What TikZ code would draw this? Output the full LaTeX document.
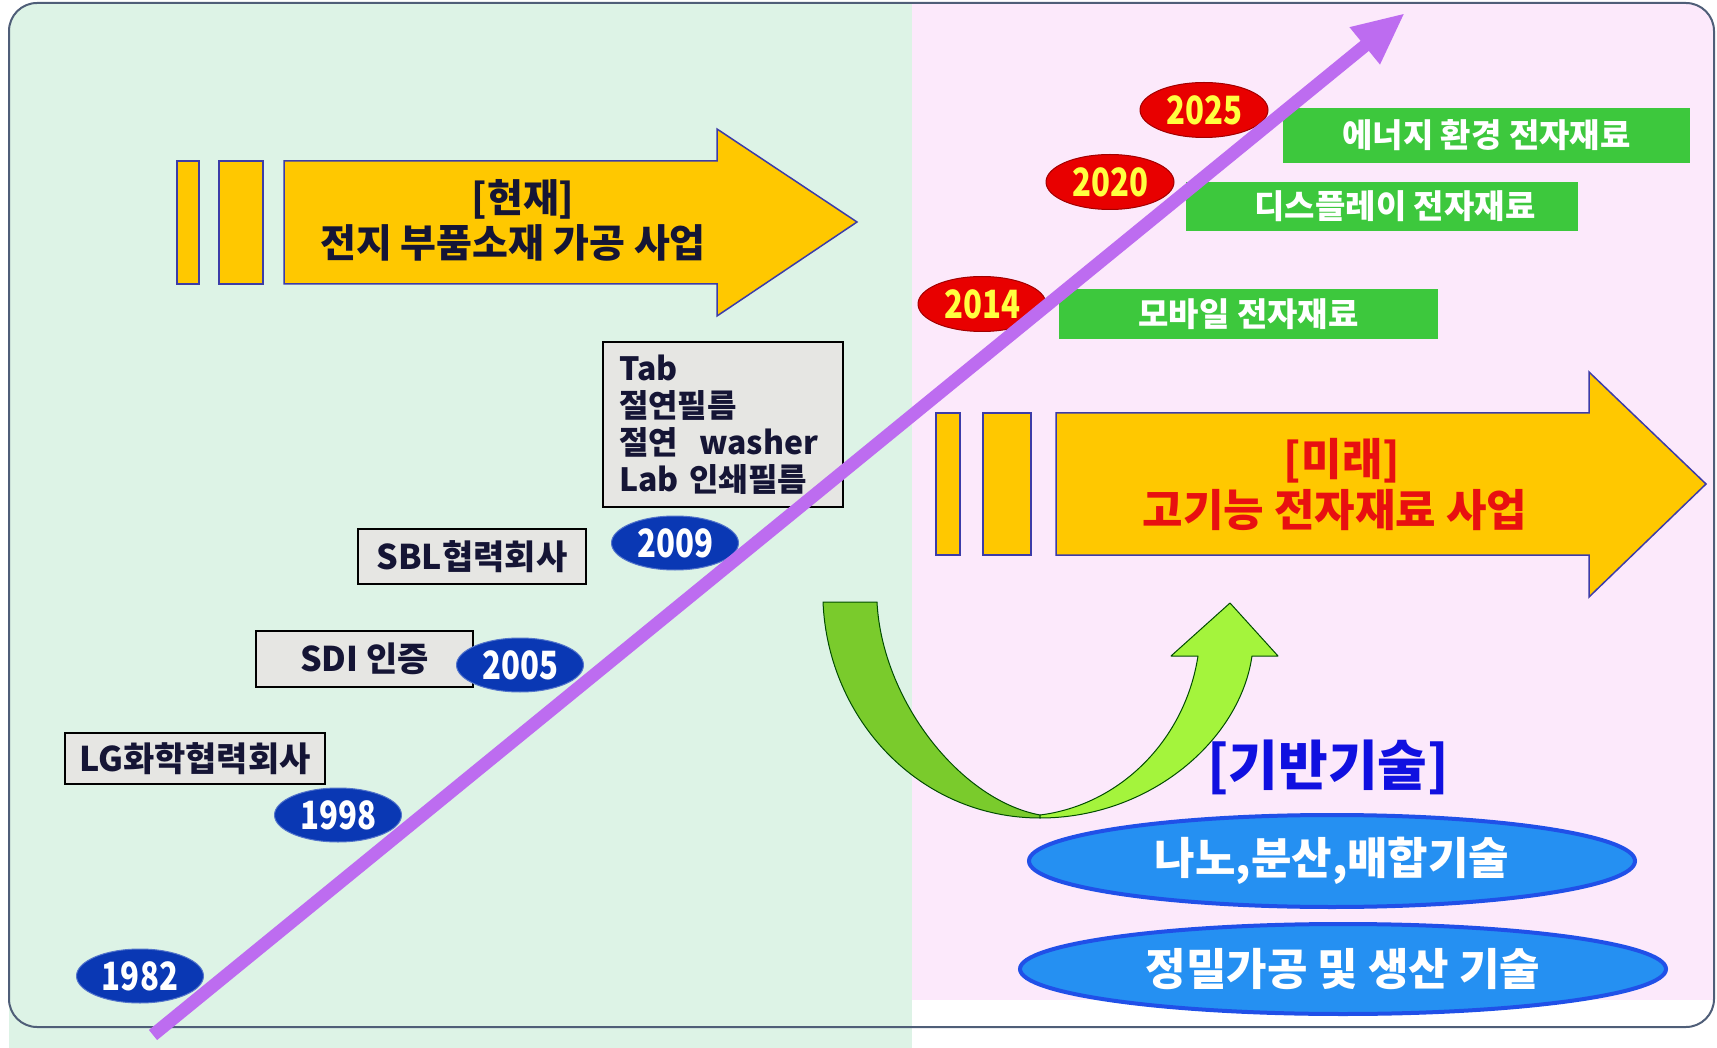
\documentclass[tikz,border=0pt]{standalone}
\usepackage{fontspec}
\usepackage{graphicx}
\newfontfamily\kr{Noto Sans CJK KR}
\usetikzlibrary{arrows.meta,shapes.geometric}
\definecolor{bgG}{HTML}{DDF3E6}
\definecolor{bgP}{HTML}{FCE9FB}
\definecolor{frameC}{HTML}{4F5E78}
\definecolor{gold}{HTML}{FFC800}
\definecolor{goldline}{HTML}{3C3CA8}
\definecolor{purp}{HTML}{BD6CF0}
\definecolor{navyE}{HTML}{0A38B4}
\definecolor{redE}{HTML}{E80000}
\definecolor{yel}{HTML}{FFFF40}
\definecolor{cGreen}{HTML}{3DC83D}
\definecolor{grayb}{HTML}{E6E6E3}
\definecolor{txtnavy}{HTML}{151535}
\definecolor{udark}{HTML}{7ACB2C}
\definecolor{ulight}{HTML}{A4F43C}
\definecolor{blueE}{HTML}{2590F2}
\definecolor{blueEb}{HTML}{2050E8}
\definecolor{redT}{HTML}{E81010}
\definecolor{blueT}{HTML}{1010E0}
\newcommand{\yrtxt}[1]{\scalebox{0.8}[1]{#1}}
\newcommand{\fsz}[1]{\fontsize{#1}{#1}\selectfont}
\begin{document}
\begin{tikzpicture}[x=1pt,y=-1pt,
  yearB/.style={ellipse, fill=navyE, draw=navyE!70!white, line width=1pt, minimum width=127pt, minimum height=54pt, inner sep=0pt, text=white, font=\kr\bfseries\fsz{39}},
  yearR/.style={ellipse, fill=redE, draw=redE!70!black, line width=1pt, minimum width=128pt, minimum height=55pt, inner sep=0pt, text=yel, font=\kr\bfseries\fsz{39}},
  graybox/.style={draw=black, line width=1.6pt, fill=grayb, text=txtnavy, font=\kr\bfseries\fsz{34}, inner sep=0pt},
  greenbox/.style={fill=cGreen, text=white, font=\kr\bfseries\fsz{33}, inner sep=0pt},
  techE/.style={ellipse, fill=blueE, draw=blueEb, line width=4pt, text=white, font=\kr\bfseries\fsz{44}, inner sep=0pt},
  goldshape/.style={fill=gold, draw=goldline, line width=1.5pt},
  utrn/.style={draw=black!70!green, line width=1pt, line join=round},
]
\useasboundingbox (0,0) rectangle (1717,1048);
% backgrounds
\fill[bgG, rounded corners=28pt] (9,3) rectangle (912,80);
\fill[bgG] (9,40) rectangle (912,1048);
\fill[bgG] (60,3) rectangle (912,60);
\fill[bgP, rounded corners=28pt] (912,3) rectangle (1714,80);
\fill[bgP] (912,40) rectangle (1714,1000);
\fill[bgP] (912,3) rectangle (1650,60);
\draw[frameC, line width=2pt, rounded corners=28pt] (9,3) rectangle (1714,1027);

% present arrow
\draw[goldshape] (177,161) rectangle (199,284);
\draw[goldshape] (219,161) rectangle (263,284);
\draw[goldshape] (284,161) -- (717,161) -- (717,129) -- (857,222) -- (717,316) -- (717,284) -- (284,284) -- cycle;
\node[font=\kr\bfseries\fsz{39}, text=txtnavy] (now1) at (523,199) {[현재]};
\node[font=\kr\bfseries\fsz{39}, text=txtnavy] (now2) at (513,243) {전지 부품소재 가공 사업};

% future arrow
\draw[goldshape] (936,413) rectangle (960,555);
\draw[goldshape] (983,413) rectangle (1031,555);
\draw[goldshape] (1056,413) -- (1589,413) -- (1589,372) -- (1706,484) -- (1589,597) -- (1589,555) -- (1056,555) -- cycle;
\node[font=\kr\bfseries\fsz{44}, text=redT] (fut1) at (1342,461) {[미래]};
\node[font=\kr\bfseries\fsz{44}, text=redT] (fut2) at (1335,510) {고기능 전자재료 사업};

% gray boxes
\node[graybox, minimum width=260pt, minimum height=51pt] (lg) at (195,758.5) {LG화학협력회사};
\node[graybox, minimum width=217pt, minimum height=56pt] (sdi) at (364.5,659) {SDI 인증};
\node[graybox, minimum width=228pt, minimum height=55pt] (sbl) at (472,556.5) {SBL협력회사};
\node[graybox, text width=208pt, inner xsep=16pt, minimum height=165pt, align=left, font=\kr\bfseries\fontsize{32}{37}\selectfont] (tab) at (723,424.5) {Tab\\절연필름\\\mbox{절연\ \ washer}\\Lab 인쇄필름};

% green boxes
\node[greenbox, minimum width=379pt, minimum height=50pt] (mob) at (1248.5,314) {모바일 전자재료};
\node[greenbox, minimum width=392pt, minimum height=49pt] (disp) at (1382,206.5) {\hspace*{26pt}디스플레이 전자재료};
\node[greenbox, minimum width=407pt, minimum height=55pt] (ener) at (1486.5,135.5) {에너지 환경 전자재료};

% year ellipses
\node[yearB] (y1982) at (140,976) {\yrtxt{1982}};
\node[yearB] (y1998) at (338,815) {\yrtxt{1998}};
\node[yearB] (y2005) at (520,665) {\yrtxt{2005}};
\node[yearB] (y2009) at (675,543) {\yrtxt{2009}};
\node[yearR] (y2014) at (982,304) {\yrtxt{2014}};
\node[yearR] (y2020) at (1110,182) {\yrtxt{2020}};
\node[yearR] (y2025) at (1204,110) {\yrtxt{2025}};

% timeline arrow
\coordinate (tstart) at (153,1035);
\coordinate (tend) at (1405,13);
\draw[purp, line width=13pt, -{Triangle[length=52pt,width=44pt]}] (tstart) -- (tend);

% U-turn arrow
\filldraw[utrn, fill=udark] (823,602) -- (877,602) .. controls (882,700) and (960,800) .. (1040,815) -- (1040,818) .. controls (920,818) and (828,720) .. (823,602) -- cycle;
\filldraw[utrn, fill=ulight] (1040,818) .. controls (1150,818) and (1240,740) .. (1252,656) -- (1278,656) -- (1230,603) -- (1171,656) -- (1198,656) .. controls (1185,740) and (1120,805) .. (1040,815) -- cycle;

% base technologies
\node[font=\kr\bfseries\fsz{54}, text=blueT] (base) at (1328,767) {[기반기술]};
\node[techE, minimum width=606pt, minimum height=92pt] (nano) at (1332,861) {나노,분산,배합기술};
\node[techE, minimum width=646pt, minimum height=90pt] (prec) at (1343,969) {정밀가공 및 생산 기술};
\end{tikzpicture}
\end{document}
